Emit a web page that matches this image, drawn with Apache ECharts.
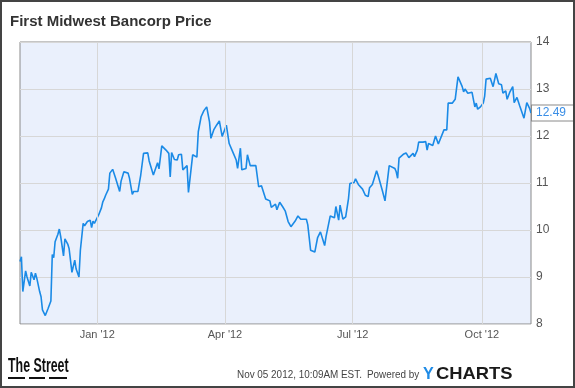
<!DOCTYPE html>
<html>
<head>
<meta charset="utf-8">
<script src="https://cdn.jsdelivr.net/npm/echarts@6/dist/echarts.min.js"></script>
<style>
  html, body { margin: 0; padding: 0; background: #fff; }
  #chart { width: 575px; height: 388px; }
</style>
</head>
<body>
<div id="chart"></div>
<script>
// ---- Data ----
const titleText = "First Midwest Bancorp Price";
const dates = [
  "2011-11-07","2011-11-08","2011-11-09","2011-11-11","2011-11-12","2011-11-14","2011-11-15","2011-11-17","2011-11-18","2011-11-19",
  "2011-11-21","2011-11-22","2011-11-23","2011-11-25","2011-11-27","2011-11-29","2011-11-30","2011-12-01","2011-12-02","2011-12-04",
  "2011-12-05","2011-12-06","2011-12-08","2011-12-09","2011-12-11","2011-12-12","2011-12-14","2011-12-16","2011-12-17","2011-12-19",
  "2011-12-20","2011-12-22","2011-12-23","2011-12-25","2011-12-27","2011-12-28","2011-12-29","2011-12-30","2012-01-02","2012-01-04",
  "2012-01-05","2012-01-06","2012-01-07","2012-01-09","2012-01-10","2012-01-12","2012-01-14","2012-01-17","2012-01-18","2012-01-20",
  "2012-01-23","2012-01-24","2012-01-26","2012-01-27","2012-01-30","2012-02-01","2012-02-03","2012-02-06","2012-02-07","2012-02-08",
  "2012-02-10","2012-02-13","2012-02-14","2012-02-15","2012-02-16","2012-02-19","2012-02-21","2012-02-22","2012-02-23","2012-02-25",
  "2012-02-27","2012-02-28","2012-03-01","2012-03-02","2012-03-05","2012-03-06","2012-03-09","2012-03-12","2012-03-13","2012-03-14",
  "2012-03-15","2012-03-17","2012-03-19","2012-03-21","2012-03-22","2012-03-24","2012-03-26","2012-03-28","2012-03-30","2012-04-02",
  "2012-04-04","2012-04-07","2012-04-09","2012-04-10","2012-04-12","2012-04-13","2012-04-16","2012-04-17","2012-04-19","2012-04-23",
  "2012-04-25","2012-04-27","2012-04-30","2012-05-03","2012-05-04","2012-05-07","2012-05-08","2012-05-10","2012-05-12","2012-05-14",
  "2012-05-16","2012-05-18","2012-05-21","2012-05-23","2012-05-25","2012-05-29","2012-05-30","2012-05-31","2012-06-01","2012-06-04",
  "2012-06-06","2012-06-08","2012-06-11","2012-06-12","2012-06-13","2012-06-15","2012-06-18","2012-06-19","2012-06-21","2012-06-22",
  "2012-06-24","2012-06-26","2012-06-28","2012-06-29","2012-07-02","2012-07-03","2012-07-05","2012-07-08","2012-07-10","2012-07-11",
  "2012-07-12","2012-07-13","2012-07-15","2012-07-18","2012-07-19","2012-07-22","2012-07-24","2012-07-27","2012-07-31","2012-08-01",
  "2012-08-02","2012-08-03","2012-08-06","2012-08-08","2012-08-10","2012-08-13","2012-08-14","2012-08-16","2012-08-17","2012-08-20",
  "2012-08-22","2012-08-23","2012-08-24","2012-08-27","2012-08-29","2012-08-31","2012-09-04","2012-09-06","2012-09-07","2012-09-10",
  "2012-09-12","2012-09-14","2012-09-17","2012-09-18","2012-09-19","2012-09-21","2012-09-22","2012-09-24","2012-09-26","2012-09-27",
  "2012-09-28","2012-09-30","2012-10-02","2012-10-03","2012-10-04","2012-10-07","2012-10-08","2012-10-09","2012-10-11","2012-10-13",
  "2012-10-15","2012-10-16","2012-10-18","2012-10-19","2012-10-21","2012-10-23","2012-10-24","2012-10-26","2012-10-28","2012-10-31",
  "2012-11-02","2012-11-04","2012-11-05"
];
const prices = [
  9.33,9.43,8.69,9.13,9.00,8.81,9.10,8.94,9.08,8.97,
  8.69,8.58,8.30,8.18,8.33,8.49,9.48,9.41,9.75,9.91,
  10.02,9.86,9.45,9.81,9.70,9.60,9.10,9.36,9.17,9.00,
  9.57,10.14,10.09,10.18,10.21,10.05,10.19,10.14,10.32,10.47,
  10.60,10.66,10.74,10.87,11.21,11.29,11.11,10.82,11.04,11.24,
  11.21,11.10,10.76,10.82,10.82,11.17,11.63,11.64,11.47,11.45,
  11.17,11.43,11.30,11.30,11.79,11.70,11.63,11.13,11.65,11.50,
  11.49,11.60,11.61,11.28,11.37,10.80,11.60,11.55,12.09,12.11,
  12.41,12.54,12.62,12.30,11.95,12.13,12.23,12.32,11.99,12.23,
  11.84,11.63,11.49,11.31,11.74,11.28,11.31,11.60,11.37,11.37,
  10.92,10.94,10.66,10.62,10.48,10.55,10.43,10.59,10.50,10.40,
  10.18,10.07,10.19,10.30,10.23,10.23,10.11,10.09,9.57,9.53,
  9.84,9.96,9.67,9.86,9.82,10.30,10.26,10.50,10.21,10.53,
  10.23,10.28,10.67,10.99,11.01,11.09,10.97,10.87,10.74,10.78,
  10.71,10.90,10.97,11.26,11.17,10.85,10.62,11.37,11.31,11.24,
  11.10,11.53,11.61,11.64,11.54,11.63,11.56,11.70,11.87,11.87,
  11.88,11.70,11.84,11.80,12.00,11.83,12.13,12.13,12.70,12.70,
  12.78,13.26,13.05,12.94,13.00,12.91,12.91,12.93,12.62,12.70,
  12.57,12.62,12.70,12.85,13.21,13.23,13.25,13.05,13.33,13.11,
  13.09,12.91,12.96,12.78,12.94,13.05,12.71,12.82,12.64,12.38,
  12.71,12.59,12.49
];
const xStart = "2011-11-07";
const xEnd = "2012-11-05";
const quarterDates = ["2012-01-01", "2012-04-01", "2012-07-01", "2012-10-01"];
const quarterLabels = ["Jan '12", "Apr '12", "Jul '12", "Oct '12"];
const yMin = 8, yMax = 14, yStep = 1;
const lastValue = prices[prices.length - 1];
const stampText = "Nov 05 2012, 10:09AM EST.";
const poweredText = "Powered by";

const chart = echarts.init(document.getElementById('chart'), null, { renderer: 'canvas' });
const FONT = '"Liberation Sans", Arial, sans-serif';

const option = {
  animation: false,
  backgroundColor: '#ffffff',
  title: {
    text: titleText,
    left: 10,
    top: 14,
    padding: 0,
    textStyle: { fontFamily: FONT, fontSize: 15, fontWeight: 'bold', color: '#333333' }
  },
  grid: {
    left: 20, top: 42, right: 44, bottom: 64,
    show: true,
    backgroundColor: '#eaf0fc',
    borderColor: '#8a8a8a',
    borderWidth: 1
  },
  xAxis: {
    type: 'time',
    min: xStart,
    max: xEnd,
    axisLine: { show: false },
    axisTick: { show: false },
    axisLabel: { show: false },
    splitLine: { show: false }
  },
  yAxis: {
    type: 'value',
    position: 'right',
    min: yMin, max: yMax, interval: yStep,
    axisLine: { show: false },
    axisTick: { show: false },
    axisLabel: { color: '#555555', fontFamily: FONT, fontSize: 12, margin: 5 },
    splitLine: { show: true, lineStyle: { color: '#d7d7d7', width: 1 } }
  },
  series: [
    {
      type: 'line',
      data: [],
      z: 1,
      silent: true,
      markLine: {
        silent: true,
        symbol: ['none', 'none'],
        animation: false,
        lineStyle: { color: '#d7d7d7', type: 'solid', width: 1 },
        label: {
          show: true,
          position: 'start',
          distance: 5,
          color: '#555555',
          fontFamily: FONT,
          fontSize: 11,
          formatter: p => p.name
        },
        data: quarterDates.map((d, i) => ({ xAxis: d, name: quarterLabels[i] }))
      }
    },
    {
      type: 'line',
      z: 3,
      data: dates.map((d, i) => [d, prices[i]]),
      showSymbol: false,
      smooth: false,
      lineStyle: { color: '#1a8ae6', width: 1.6 },
      markLine: {
        silent: true,
        symbol: ['none', 'none'],
        animation: false,
        lineStyle: { color: 'rgba(0,0,0,0)', width: 1 },
        label: {
          show: true,
          position: 'end',
          distance: 1,
          color: '#3a8ee6',
          fontFamily: FONT,
          fontSize: 12,
          backgroundColor: '#ffffff',
          borderColor: '#8a8a8a',
          borderWidth: 1,
          padding: [2, 8, 1, 4],
          formatter: p => Number(p.value).toFixed(2)
        },
        data: [{ yAxis: lastValue }]
      }
    }
  ],
  graphic: [
    {
      type: 'rect', silent: true, z: 100,
      shape: { x: 1, y: 1, width: 573, height: 386 },
      style: { fill: 'none', stroke: '#444444', lineWidth: 2 }
    },
    {
      type: 'text', x: 8, y: 356, scaleX: 0.62,
      style: { text: 'The Street', font: 'bold 20px "Liberation Sans", Arial', fill: '#111111' }
    },
    { type: 'rect', shape: { x: 8, y: 377, width: 17, height: 2 }, style: { fill: '#111111' } },
    { type: 'rect', shape: { x: 29, y: 377, width: 16, height: 2 }, style: { fill: '#111111' } },
    { type: 'rect', shape: { x: 49, y: 377, width: 18, height: 2 }, style: { fill: '#111111' } },
    {
      type: 'text', x: 237, y: 369, scaleX: 0.9,
      style: { text: stampText, font: '11px "Liberation Sans", Arial', fill: '#444444' }
    },
    {
      type: 'text', x: 367, y: 369, scaleX: 0.9,
      style: { text: poweredText, font: '11px "Liberation Sans", Arial', fill: '#444444' }
    },
    {
      type: 'text', x: 423, y: 366, scaleX: 0.95,
      style: { text: 'Y', font: 'bold 17px "Liberation Sans", Arial', fill: '#1f8be6' }
    },
    {
      type: 'text', x: 436, y: 366, scaleX: 1.08,
      style: { text: 'CHARTS', font: 'bold 17px "Liberation Sans", Arial', fill: '#1a1a1a' }
    }
  ]
};
chart.setOption(option);
</script>
</body>
</html>
